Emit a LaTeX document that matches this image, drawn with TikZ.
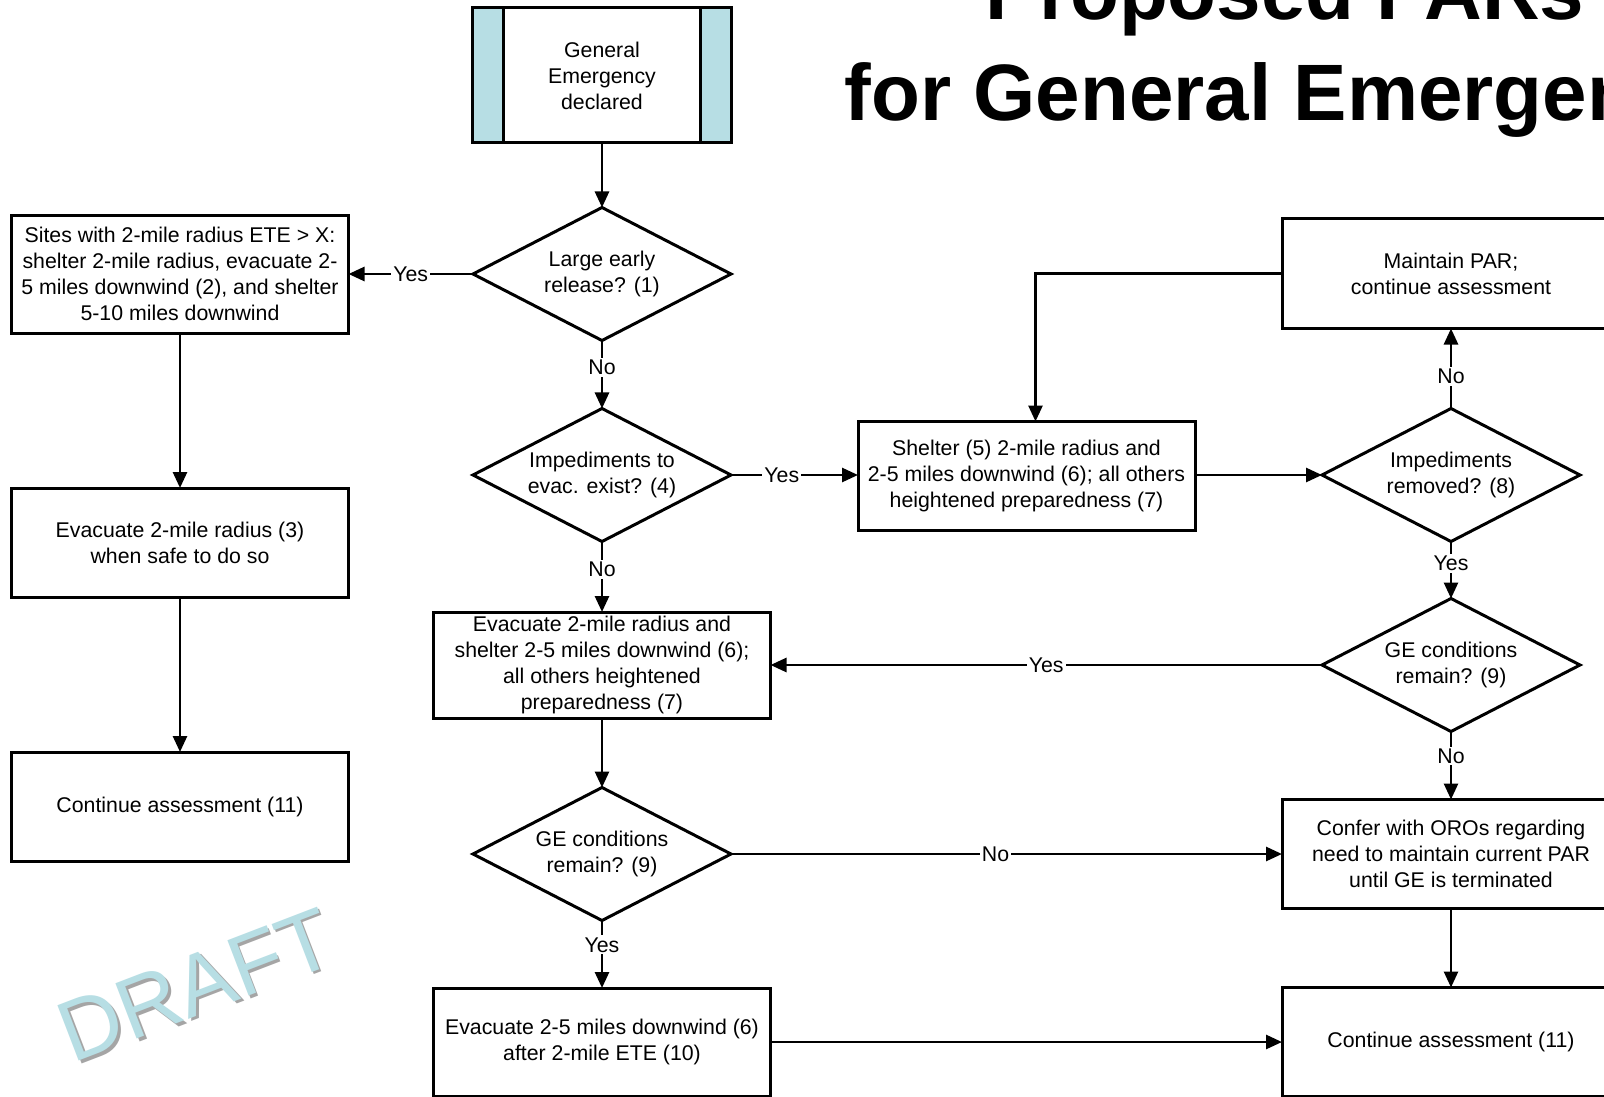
\documentclass[tikz,border=0pt]{standalone}
\usepackage{fontspec}
\setmainfont{Liberation Sans}
\usetikzlibrary{arrows.meta,shapes.geometric,calc}

\definecolor{bandblue}{RGB}{183,222,228}
\definecolor{shadowgrey}{RGB}{165,165,165}

\tikzset{
  box/.style={draw,line width=3pt,rectangle,minimum width=337pt,minimum height=109pt,
              inner sep=0pt,outer sep=0pt,align=center},
  decision/.style={draw,line width=3pt,diamond,aspect=2,minimum width=258pt,minimum height=133pt,
                   inner sep=0pt,outer sep=0pt,align=center},
  flow/.style={line width=2.7pt,-{Triangle[length=16pt,width=14pt]}},
  answer/.style={fill=white,inner sep=2pt},
}

\begin{document}
\begin{tikzpicture}[x=1pt,y=-1pt,font=\fontsize{21.3}{26}\selectfont]
  \clip (0,0) rectangle (1604,1097);
  \fill[white] (0,0) rectangle (1604,1097);

  % watermark
  \node[rotate=21,font=\fontsize{86}{86}\selectfont,text=shadowgrey] (draftshadow) at (198.5,987.5) {DRAFT};
  \node[rotate=21,font=\fontsize{86}{86}\selectfont,text=bandblue] (draft) at (196,985) {DRAFT};

  % title
  \node[anchor=base,font=\fontsize{80}{96}\selectfont\bfseries] (titletop) at (1285,20) {Proposed PARs};
  \node[anchor=base,font=\fontsize{80}{96}\selectfont\bfseries] (titlebot) at (1285,121) {for General Emergency};

  % start
  \node[box,minimum width=259pt,minimum height=135pt] (start) at (602,75.5) {General\\Emergency\\declared};
  \draw[line width=3pt,fill=bandblue] (start.north west) rectangle ([xshift=31pt]start.south west);
  \draw[line width=3pt,fill=bandblue] (start.north east) rectangle ([xshift=-31pt]start.south east);

  % decisions
  \node[decision] (early) at (602,274) {Large early\\release? (1)};
  \node[decision] (impede) at (602,475) {Impediments to\\evac. exist? (4)};
  \node[decision] (remainL) at (602,854) {GE conditions\\remain? (9)};
  \node[decision] (removed) at (1451,475) {Impediments\\removed? (8)};
  \node[decision] (remainR) at (1451,665) {GE conditions\\remain? (9)};

  % actions
  \node[box,minimum height=118pt] (sites) at (180,274)
    {Sites with 2-mile radius ETE > X:\\shelter 2-mile radius, evacuate 2-\\5 miles downwind (2), and shelter\\5-10 miles downwind};
  \node[box] (evacsafe) at (180,542.5) {Evacuate 2-mile radius (3)\\when safe to do so};
  \node[box] (contL) at (180,806.5) {Continue assessment (11)};
  \node[box] (shelter) at (1026.5,476) {Shelter (5) 2-mile radius and\\2-5 miles downwind (6); all others\\heightened preparedness (7)};
  \node[box,minimum width=338pt,minimum height=110pt] (maintain) at (1451,273.5) {Maintain PAR;\\continue assessment};
  \node[box,minimum height=106pt] (evacnear) at (602,665)
    {Evacuate 2-mile radius and\\shelter 2-5 miles downwind (6);\\all others heightened\\preparedness (7)};
  \node[box,minimum height=108pt] (evacfar) at (602,1042) {Evacuate 2-5 miles downwind (6)\\after 2-mile ETE (10)};
  \node[box,minimum width=338pt] (confer) at (1451,854) {Confer with OROs regarding\\need to maintain current PAR\\until GE is terminated};
  \node[box,minimum width=338pt] (contR) at (1451,1042) {Continue assessment (11)};

  % connectors
  \draw[flow] (start) -- (early);
  \draw[flow] (early) -- node[answer] {Yes} (sites);
  \draw[flow] (early) -- node[answer,pos=0.4] {No} (impede);
  \draw[flow] (sites) -- (evacsafe);
  \draw[flow] (evacsafe) -- (contL);
  \draw[flow] (impede.east) -- node[answer,pos=0.4] {Yes} (impede.east -| shelter.west);
  \draw[flow] (impede) -- node[answer,pos=0.4] {No} (evacnear);
  \draw[flow] (shelter.east |- removed.west) -- (removed.west);
  \draw[flow] (removed) -- node[answer,pos=0.4] {No} (maintain);
  \draw[flow] (maintain.west) -| ([xshift=9pt]shelter.north);
  \draw[flow] (removed) -- node[answer,pos=0.38] {Yes} (remainR);
  \draw[flow] (remainR) -- node[answer] {Yes} (evacnear);
  \draw[flow] (remainR) -- node[answer,pos=0.36] {No} (confer);
  \draw[flow] (evacnear) -- (remainL);
  \draw[flow] (remainL) -- node[answer,pos=0.48] {No} (confer);
  \draw[flow] (remainL) -- node[answer,pos=0.36] {Yes} (evacfar);
  \draw[flow] (confer) -- (contR);
  \draw[flow] (evacfar) -- (contR);
\end{tikzpicture}
\end{document}
